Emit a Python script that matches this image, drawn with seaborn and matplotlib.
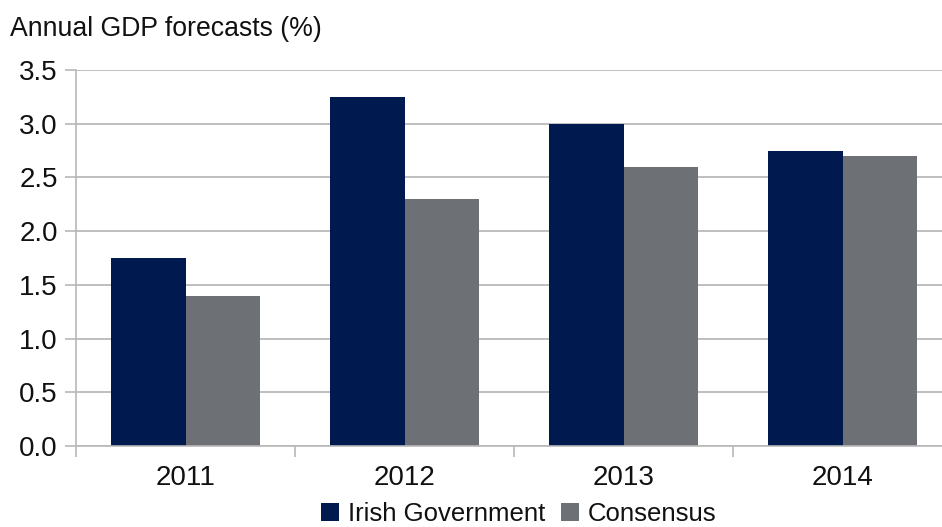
import matplotlib
matplotlib.use("Agg")
import matplotlib.pyplot as plt
import seaborn as sns
import pandas as pd
from matplotlib.patches import Patch

years = ["2011", "2012", "2013", "2014"]
irish_gov = [1.75, 3.25, 3.0, 2.75]
consensus = [1.4, 2.3, 2.6, 2.7]
series_names = ["Irish Government", "Consensus"]
colors = ["#001A4F", "#6D7075"]

df = pd.DataFrame({
    "year": years * 2,
    "value": irish_gov + consensus,
    "series": [series_names[0]] * 4 + [series_names[1]] * 4,
})

sns.set_style("white")
plt.rcParams["font.family"] = ["Liberation Sans", "DejaVu Sans"]

fig = plt.figure(figsize=(9.42, 5.27), dpi=100)
W, H = 942, 527
ax = fig.add_axes([76 / W, 1 - 446 / H, (942 - 76) / W, (446 - 70) / H])

sns.barplot(data=df, x="year", y="value", hue="series", palette=colors,
            width=0.676, gap=0, ax=ax, legend=False, saturation=1, errorbar=None,
            linewidth=0, edgecolor="none")

ax.set_ylim(0, 3.5)
ax.set_xlim(-0.5, 3.5 - 10 / 219)
ticks = [0, 0.5, 1, 1.5, 2, 2.5, 3, 3.5]
ax.set_yticks(ticks)
ax.set_yticklabels([f"{v:.1f}" for v in ticks])
ax.yaxis.grid(True, color="#b4b4b4", linewidth=1.2)
ax.set_axisbelow(True)
ax.set_xlabel("")
ax.set_ylabel("")

for s in ["top", "right"]:
    ax.spines[s].set_visible(False)
for s in ["left", "bottom"]:
    ax.spines[s].set_color("#b8b8b8")
    ax.spines[s].set_linewidth(1.2)

ax.tick_params(axis="y", which="major", length=8, width=1.2, color="#b8b8b8",
               labelsize=20, pad=5, direction="out", left=True, labelcolor="#111111")
ax.tick_params(axis="x", which="major", length=0, labelsize=20, pad=14,
               labelcolor="#111111")
ax.set_xticks([-0.5, 0.5, 1.5, 2.5], minor=True)
ax.tick_params(axis="x", which="minor", length=8, width=1.2, color="#b8b8b8",
               direction="out", bottom=True)

fig.text(10 / W, 1 - 29 / H, "Annual GDP forecasts (%)", fontsize=19.2,
         ha="left", va="center", color="#111111")

handles = [Patch(facecolor=c, edgecolor="none") for c in colors]
fig.legend(handles, series_names, loc="center", bbox_to_anchor=(519 / W, 1 - 514 / H),
           ncol=2, frameon=False, fontsize=18.5, handlelength=0.7, handleheight=0.7,
           handletextpad=0.35, columnspacing=0.6, borderpad=0, labelcolor="#111111")

fig.savefig("out.png", dpi=100)
